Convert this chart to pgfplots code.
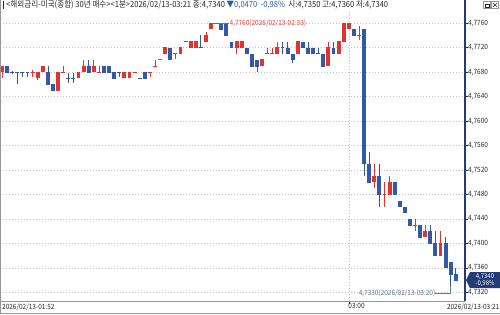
\documentclass[border=0pt]{standalone}
\usepackage{fontspec}
\setmainfont{Noto Sans CJK KR}[FakeStretch=0.9]
\usepackage{pgfplots}
\pgfplotsset{compat=1.18}
\usepackage{pgfplotstable}

\definecolor{cred}{RGB}{228,50,46}
\definecolor{cblue}{RGB}{50,88,170}
\definecolor{navy}{RGB}{36,60,118}
\definecolor{gridc}{RGB}{195,195,195}
\definecolor{framec}{RGB}{150,150,150}
\definecolor{txt}{RGB}{40,40,40}
\definecolor{annr}{RGB}{222,70,60}
\definecolor{annb}{RGB}{95,115,165}

\newcommand\fs{\fontsize{7.2bp}{8.5bp}\selectfont}
\newcommand\ft{\fontsize{8.4bp}{9bp}\selectfont}

% up (red) candles: index, open, high, low, close
\pgfplotstableread{
x o h l c
0 4.7680 4.7690 4.7670 4.7690
6 4.7680 4.7683 4.7672 4.7680
7 4.7670 4.7680 4.7667 4.7680
8 4.7680 4.7690 4.7680 4.7690
11 4.7650 4.7680 4.7650 4.7680
12 4.7680 4.7690 4.7680 4.7680
15 4.7670 4.7680 4.7670 4.7680
16 4.7680 4.7700 4.7680 4.7690
18 4.7680 4.7700 4.7680 4.7690
19 4.7680 4.7690 4.7680 4.7680
24 4.7670 4.7680 4.7670 4.7680
25 4.7670 4.7680 4.7670 4.7680
26 4.7680 4.7680 4.7680 4.7680
29 4.7680 4.7680 4.7672 4.7680
30 4.7690 4.7700 4.7690 4.7690
31 4.7700 4.7700 4.7700 4.7700
32 4.7710 4.7720 4.7710 4.7720
34 4.7710 4.7710 4.7702 4.7710
35 4.7710 4.7720 4.7710 4.7720
36 4.7730 4.7730 4.7730 4.7730
37 4.7720 4.7730 4.7720 4.7730
38 4.7720 4.7730 4.7720 4.7730
40 4.7730 4.7745 4.7730 4.7740
41 4.7750 4.7760 4.7750 4.7760
42 4.7760 4.7760 4.7760 4.7760
46 4.7720 4.7730 4.7710 4.7730
47 4.7720 4.7730 4.7720 4.7730
51 4.7690 4.7700 4.7690 4.7700
52 4.7710 4.7720 4.7710 4.7710
53 4.7710 4.7720 4.7710 4.7710
54 4.7710 4.7730 4.7710 4.7720
58 4.7710 4.7730 4.7710 4.7730
64 4.7690 4.7730 4.7690 4.7720
66 4.7710 4.7730 4.7710 4.7730
67 4.7730 4.7760 4.7730 4.7760
68 4.7750 4.7760 4.7750 4.7760
70 4.7740 4.7755 4.7732 4.7740
73 4.7500 4.7530 4.7490 4.7510
75 4.7480 4.7500 4.7460 4.7480
76 4.7480 4.7510 4.7480 4.7500
81 4.7430 4.7440 4.7420 4.7430
83 4.7410 4.7430 4.7410 4.7420
86 4.7380 4.7420 4.7380 4.7400
}\upT

% down (blue) candles
\pgfplotstableread{
x o h l c
1 4.7690 4.7690 4.7680 4.7680
2 4.7680 4.7682 4.7677 4.7680
3 4.7680 4.7680 4.7660 4.7680
4 4.7680 4.7680 4.7672 4.7680
5 4.7680 4.7680 4.7672 4.7680
9 4.7680 4.7690 4.7660 4.7660
10 4.7660 4.7660 4.7650 4.7650
13 4.7670 4.7678 4.7662 4.7670
14 4.7670 4.7678 4.7662 4.7670
17 4.7690 4.7700 4.7680 4.7680
20 4.7690 4.7690 4.7680 4.7680
21 4.7690 4.7690 4.7680 4.7680
22 4.7680 4.7680 4.7670 4.7670
23 4.7680 4.7680 4.7672 4.7680
27 4.7670 4.7670 4.7670 4.7670
28 4.7680 4.7680 4.7670 4.7670
33 4.7720 4.7720 4.7700 4.7700
39 4.7720 4.7740 4.7720 4.7720
43 4.7760 4.7760 4.7750 4.7750
44 4.7760 4.7760 4.7740 4.7740
45 4.7730 4.7730 4.7720 4.7720
48 4.7720 4.7720 4.7710 4.7710
49 4.7710 4.7710 4.7690 4.7690
50 4.7700 4.7700 4.7680 4.7690
55 4.7720 4.7730 4.7710 4.7720
56 4.7720 4.7730 4.7710 4.7710
57 4.7710 4.7710 4.7695 4.7700
59 4.7730 4.7730 4.7720 4.7720
60 4.7720 4.7730 4.7710 4.7710
61 4.7720 4.7720 4.7710 4.7710
62 4.7710 4.7720 4.7710 4.7710
63 4.7710 4.7710 4.7690 4.7690
65 4.7720 4.7730 4.7710 4.7710
69 4.7750 4.7750 4.7740 4.7740
71 4.7750 4.7750 4.7510 4.7530
72 4.7530 4.7550 4.7500 4.7500
74 4.7510 4.7530 4.7460 4.7480
77 4.7500 4.7500 4.7480 4.7480
78 4.7470 4.7470 4.7460 4.7460
79 4.7460 4.7460 4.7450 4.7450
80 4.7440 4.7440 4.7430 4.7430
82 4.7430 4.7430 4.7410 4.7410
84 4.7420 4.7430 4.7400 4.7400
85 4.7400 4.7420 4.7380 4.7380
87 4.7400 4.7410 4.7360 4.7360
88 4.7370 4.7370 4.7330 4.7350
89 4.7350 4.7360 4.7340 4.7340
}\downT

\pgfplotsset{
 wick/.style={draw=none, mark=none, forget plot,
   error bars/.cd, y dir=both, y explicit, error mark=none,
   error bar style={line width=0.8bp, draw=#1}},
 body/.style={draw=none, mark=none, forget plot,
   error bars/.cd, y dir=plus, y explicit, error mark=none,
   error bar style={line width=3.9bp, line cap=butt, draw=#1}},
 dojimark/.style={draw=none, mark=-, forget plot,
   mark size=1.95bp, mark options={solid, line width=1bp, draw=#1}},
}

\begin{document}
\begin{tikzpicture}[x=1bp,y=1bp]
\begin{axis}[at={(0bp,0bp)}, anchor=south west,
 width=465bp, height=290bp, scale only axis,
 xmin=-0.4, xmax=90.8, ymin=4.7306, ymax=4.7780,
 axis x line*=bottom, axis y line*=right,
 x axis line style={draw=framec, line width=0.8bp},
 y axis line style={draw=navy, line width=1.6bp},
 tick align=outside, major tick length=3bp,
 tick style={draw=txt, line width=0.5bp},
 xtick={68}, xticklabels={03:00},
 xticklabel style={font=\fs, text=txt, anchor=north west, inner sep=0pt, xshift=-0.5bp, yshift=0.5bp},
 ytick={4.7320,4.7360,4.7400,4.7440,4.7480,4.7520,4.7560,4.7600,4.7640,4.7680,4.7720,4.7760},
 yticklabel style={font=\fs, text=txt, anchor=west, inner sep=0pt, xshift=0bp,
   /pgf/number format/.cd, fixed, fixed zerofill, precision=4, use comma, assume math mode=true},
 xmajorgrids, ymajorgrids,
 grid style={draw=gridc, line width=0.5bp, dash pattern=on 1bp off 2bp},
 clip=false]

\addplot[wick=cred] table[x=x, y=c, y error plus expr=\thisrow{h}-\thisrow{c}, y error minus expr=\thisrow{c}-\thisrow{l}] {\upT};
\addplot[wick=cblue] table[x=x, y=c, y error plus expr=\thisrow{h}-\thisrow{c}, y error minus expr=\thisrow{c}-\thisrow{l}] {\downT};
\addplot[body=cred] table[x=x, y=o, y error plus expr=\thisrow{c}-\thisrow{o}, y error minus expr=0] {\upT};
\addplot[body=cblue] table[x=x, y=c, y error plus expr=\thisrow{o}-\thisrow{c}, y error minus expr=0] {\downT};
\addplot[dojimark=cred] table[x=x, y=c] {\upT};
\addplot[dojimark=cblue] table[x=x, y=c] {\downT};

% high annotation
\draw[annr, line width=0.6bp] (axis cs:41,4.7760) -- (axis cs:44.6,4.7760);
\node[font=\fs, text=annr, anchor=west, inner sep=0pt] at (axis cs:44.6,4.7760) {4,7760(2026/02/13-02:33)};
% low annotation
\draw[annb, line width=0.6bp] (axis cs:85.0,4.73192) -- (axis cs:88,4.73192) -- (axis cs:88,4.7331);
\node[font=\fs, text=annb, anchor=east, inner sep=0pt] at (axis cs:85.0,4.73192) {4,7330(2026/02/13-03:20)};
% last price marker
\fill[navy] (axis cs:90.8,4.7340) ++(1bp,0bp) -- ++(4bp,8bp) -- ++(30bp,0bp) -- ++(0bp,-16bp) -- ++(-30bp,0bp) -- cycle;
\node[font=\fontsize{6.6bp}{7bp}\selectfont, text=white, align=center, inner sep=0pt] at ([xshift=20bp]axis cs:90.8,4.7340) {4,7340\\-0,98\%};
\end{axis}

% frame and extra lines
\draw[framec, line width=0.8bp] (0.4,-13) -- (0.4,301);
\draw[framec, line width=0.6bp] (0,-12.6) -- (500,-12.6);
\draw[navy, line width=1.6bp] (465,290) -- (465,301);

% bottom labels
\node[font=\fs, text=txt, anchor=north west, inner sep=0pt] at (2,-2.5) {2026/02/13-01:52};
\node[font=\fs, text=txt, anchor=north east, inner sep=0pt] at (499.5,-2.5) {2026/02/13-03:21};

% title
\fill[txt] (2.5,292) rectangle (4.2,300);
\node[font=\ft, text=txt, anchor=west, inner sep=0pt] at (6,296) {<해외금리-미국(종합) 30년 매수><1분>2026/02/13-03:21 종:4,7340 \textcolor{cblue}{▼0,0470 \ -0,98\%} \ 시:4,7350 고:4,7360 저:4,7340};

% window icons
\draw[framec, line width=0.5bp] (483.5,292.5) rectangle (490.5,299.5);
\draw[txt, line width=0.6bp] (485,294) rectangle (489,297);
\draw[framec, line width=0.5bp] (491.5,292.5) rectangle (498.5,299.5);
\draw[txt, line width=0.6bp] (493,294) -- (497,298) (493,298) -- (497,294);

\pgfresetboundingbox
\path[use as bounding box] (0,-13) rectangle (500,301);
\end{tikzpicture}
\end{document}
